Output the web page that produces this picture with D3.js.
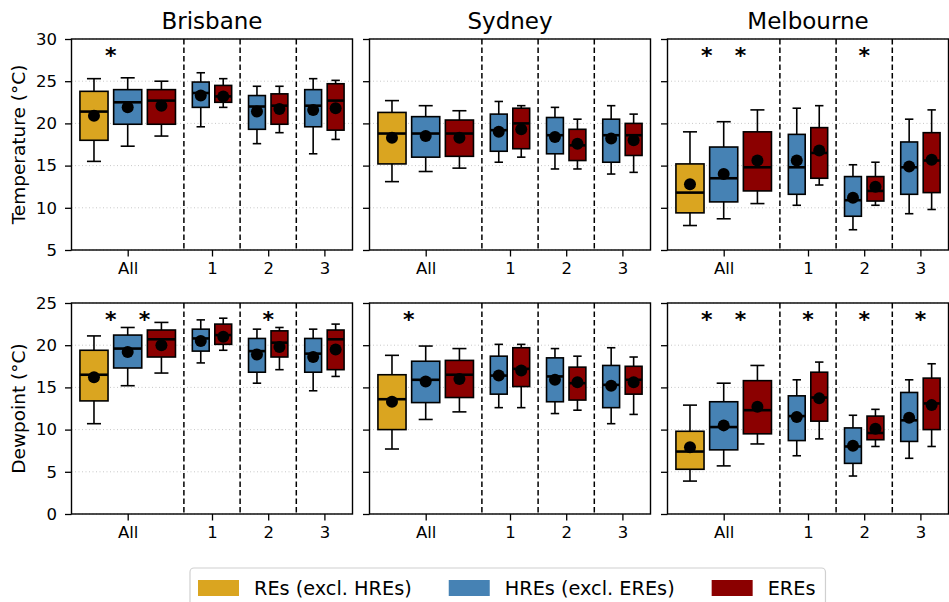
<!DOCTYPE html>
<html>
<head>
<meta charset="utf-8">
<script src="https://cdn.jsdelivr.net/npm/d3@7"></script>
<style>
  body { margin: 0; background: #fff; }
  svg text { font-family: "DejaVu Sans", sans-serif; fill: #000; }
</style>
</head>
<body>
<div id="chart"></div>
<script>
// Names
let cities = ["Brisbane", "Sydney", "Melbourne"];
let groups = ["All", "1", "2", "3"];
let seriesNames = ["REs (excl. HREs)", "HREs (excl. EREs)", "EREs"];
let rowLabels = ["Temperature (\u00b0C)", "Dewpoint (\u00b0C)"];
let tempTicks = [5, 10, 15, 20, 25, 30];
let dewTicks = [0, 5, 10, 15, 20, 25];

// Box stats: [whisker low, Q1, median, Q3, whisker high, mean]
// order: All-RE, All-HRE, All-ERE, 1-HRE, 1-ERE, 2-HRE, 2-ERE, 3-HRE, 3-ERE
let tempBrisbane = [
  [15.5, 18.0, 21.4, 23.8, 25.3, 20.9], [17.3, 19.9, 22.5, 24.0, 25.4, 21.9], [18.5, 19.9, 22.7, 24.0, 25.0, 22.1],
  [19.6, 21.9, 23.6, 24.9, 26.0, 23.3], [21.9, 22.5, 23.2, 24.5, 25.3, 23.2],
  [17.6, 19.3, 22.0, 23.3, 24.4, 21.4], [18.9, 19.9, 22.1, 23.5, 24.4, 21.7],
  [16.4, 19.6, 22.1, 24.0, 25.3, 21.6], [18.1, 19.2, 22.7, 24.7, 25.1, 21.8]
];
let tempSydney = [
  [13.1, 15.2, 18.8, 21.3, 22.7, 18.3], [14.3, 16.0, 18.8, 20.8, 22.1, 18.5], [14.7, 16.1, 18.8, 20.4, 21.5, 18.3],
  [15.4, 16.7, 19.2, 21.1, 22.6, 19.0], [16.0, 17.0, 20.0, 21.8, 22.1, 19.3],
  [14.6, 16.4, 18.6, 20.7, 21.9, 18.4], [14.6, 15.6, 17.4, 19.3, 20.5, 17.6],
  [14.0, 15.4, 18.6, 20.5, 22.1, 18.2], [14.2, 16.2, 18.6, 20.0, 21.1, 18.0]
];
let tempMelbourne = [
  [7.9, 9.4, 11.8, 15.2, 19.0, 12.8], [8.7, 10.7, 13.5, 17.2, 20.2, 14.0], [10.5, 12.0, 14.8, 19.0, 21.6, 15.6],
  [10.3, 11.6, 14.8, 18.7, 21.8, 15.6], [12.7, 13.5, 16.5, 19.5, 22.1, 16.8],
  [7.4, 9.0, 10.9, 13.7, 15.1, 11.2], [10.3, 10.8, 12.0, 13.7, 15.4, 12.5],
  [9.3, 11.6, 14.8, 17.8, 20.5, 14.9], [9.8, 11.8, 15.6, 18.9, 21.6, 15.7]
];
let dewBrisbane = [
  [10.7, 13.4, 16.5, 19.4, 21.1, 16.2], [15.2, 17.3, 19.6, 21.2, 22.1, 19.2], [16.7, 18.6, 20.7, 21.8, 22.7, 20.0],
  [17.9, 19.3, 20.8, 21.9, 23.0, 20.5], [19.4, 20.1, 21.2, 22.5, 23.2, 21.0],
  [15.5, 16.8, 19.3, 20.8, 21.9, 18.9], [17.1, 18.6, 20.3, 21.7, 22.1, 19.8],
  [14.6, 16.8, 19.0, 20.8, 21.9, 18.6], [16.3, 17.1, 20.7, 21.8, 22.5, 19.5]
];
let dewSydney = [
  [7.7, 10.0, 13.6, 16.5, 18.8, 13.3], [11.2, 13.2, 15.9, 18.1, 19.9, 15.7], [12.1, 13.8, 16.5, 18.2, 19.6, 16.0],
  [12.6, 14.2, 16.4, 18.7, 20.1, 16.4], [12.6, 15.1, 17.2, 19.7, 20.1, 17.0],
  [11.9, 13.3, 16.3, 18.5, 19.6, 15.9], [12.3, 13.5, 15.5, 17.4, 18.7, 15.6],
  [10.7, 12.6, 15.3, 17.6, 19.7, 15.2], [11.8, 14.2, 15.9, 17.5, 18.6, 15.6]
];
let dewMelbourne = [
  [3.9, 5.3, 7.4, 9.8, 12.9, 7.9], [5.7, 7.6, 10.3, 13.3, 15.5, 10.5], [8.3, 9.5, 12.3, 15.8, 17.6, 12.7],
  [6.9, 8.7, 11.6, 14.0, 15.9, 11.5], [8.9, 11.0, 13.8, 16.8, 18.0, 13.7],
  [4.5, 6.0, 8.0, 10.2, 11.7, 8.1], [8.0, 8.8, 9.6, 11.6, 12.4, 10.1],
  [6.6, 8.6, 11.1, 14.4, 15.9, 11.4], [8.0, 10.0, 13.1, 16.1, 17.8, 12.9]
];

// Significance marks: [group index, pair] where pair 0 = REs vs HREs, 1 = HREs vs EREs
let sigTemp = [[[0, 0]], [], [[0, 0], [0, 1], [2, 1]]];
let sigDew = [[[0, 0], [0, 1], [2, 1]], [[0, 0]], [[0, 0], [0, 1], [1, 1], [2, 1], [3, 1]]];

// ---- layout
let svgWidth = 949, svgHeight = 602;
let panelW = 281;
let panelLeft = [71.5, 369.5, 667.5];
let rows = [
  {top: 39, bottom: 250, domain: [5, 30], ticks: tempTicks, stats: [tempBrisbane, tempSydney, tempMelbourne], sig: sigTemp},
  {top: 303, bottom: 514, domain: [0, 25], ticks: dewTicks, stats: [dewBrisbane, dewSydney, dewMelbourne], sig: sigDew}
];
let colors = ["#DAA520", "#4682B4", "#8B0000"];

// sections: "All" is twice as wide as the numbered groups
let sectionW = [4, 2, 2, 2];
let sectionStart = d3.cumsum([0].concat(sectionW)).slice(0, 4);
let centers = sectionW.map((w, i) => sectionStart[i] + w / 2);

// one entry per box: group, series, x-offset, width
let boxSlots = [];
groups.forEach((g, gi) => {
  let series = gi === 0 ? [0, 1, 2] : [1, 2];
  let step = gi === 0 ? 1.2 : 0.8;
  let w = gi === 0 ? 1.0 : 0.6;
  series.forEach((s, k) => {
    boxSlots.push({g: gi, s: s, x: centers[gi] + (k - (series.length - 1) / 2) * step, w: w});
  });
});

let svg = d3.select("#chart")
  .append("svg")
  .attr("width", svgWidth)
  .attr("height", svgHeight);

let xScale = d3.scaleLinear().domain([0, 10]).range([0, panelW]);

rows.forEach((row, ri) => {
  let yScale = d3.scaleLinear().domain(row.domain).range([row.bottom, row.top]);

  cities.forEach((city, ci) => {
    let g = svg.append("g").attr("transform", `translate(${panelLeft[ci]},0)`);

    // grid
    g.selectAll(".grid")
      .data(row.ticks)
      .enter()
      .append("line")
      .attr("x1", 0).attr("x2", panelW)
      .attr("y1", d => yScale(d)).attr("y2", d => yScale(d))
      .attr("stroke", "#c8c8c8")
      .attr("stroke-width", 1)
      .attr("stroke-dasharray", "1,2.5");

    // section dividers
    g.selectAll(".div")
      .data(sectionStart.slice(1))
      .enter()
      .append("line")
      .attr("x1", d => xScale(d)).attr("x2", d => xScale(d))
      .attr("y1", row.top).attr("y2", row.bottom)
      .attr("stroke", "#000")
      .attr("stroke-width", 1.5)
      .attr("stroke-dasharray", "5.5,3");

    // boxes
    let boxData = boxSlots.map((b, i) => Object.assign({v: row.stats[ci][i]}, b));
    let box = g.selectAll(".box")
      .data(boxData)
      .enter()
      .append("g");

    box.append("line")
      .attr("x1", d => xScale(d.x)).attr("x2", d => xScale(d.x))
      .attr("y1", d => yScale(d.v[0])).attr("y2", d => yScale(d.v[4]))
      .attr("stroke", "#000").attr("stroke-width", 1.6);

    box.selectAll(".cap")
      .data(d => [[d, d.v[0]], [d, d.v[4]]])
      .enter()
      .append("line")
      .attr("x1", d => xScale(d[0].x - d[0].w / 4)).attr("x2", d => xScale(d[0].x + d[0].w / 4))
      .attr("y1", d => yScale(d[1])).attr("y2", d => yScale(d[1]))
      .attr("stroke", "#000").attr("stroke-width", 1.6);

    box.append("rect")
      .attr("x", d => xScale(d.x - d.w / 2))
      .attr("width", d => xScale(d.w) - xScale(0))
      .attr("y", d => yScale(d.v[3]))
      .attr("height", d => yScale(d.v[1]) - yScale(d.v[3]))
      .attr("fill", d => colors[d.s])
      .attr("stroke", "#000").attr("stroke-width", 1.6);

    box.append("line")
      .attr("x1", d => xScale(d.x - d.w / 2)).attr("x2", d => xScale(d.x + d.w / 2))
      .attr("y1", d => yScale(d.v[2])).attr("y2", d => yScale(d.v[2]))
      .attr("stroke", "#000").attr("stroke-width", 2.6);

    box.append("circle")
      .attr("cx", d => xScale(d.x))
      .attr("cy", d => yScale(d.v[5]))
      .attr("r", 6)
      .attr("fill", "#000");

    // significance asterisks, between the two compared boxes
    g.selectAll(".sig")
      .data(row.sig[ci])
      .enter()
      .append("text")
      .attr("x", d => {
        let pair = boxSlots.filter(b => b.g === d[0] && (d[1] === 0 ? b.s <= 1 : b.s >= 1));
        return xScale(d3.mean(pair, b => b.x));
      })
      .attr("y", row.top + 24)
      .attr("text-anchor", "middle")
      .attr("font-size", 22)
      .attr("font-weight", "bold")
      .text("*");

    // axes
    let yAxis = d3.axisLeft(yScale).tickValues(row.ticks).tickSize(6.5).tickPadding(8)
      .tickFormat(ci === 0 ? d3.format("d") : () => "");
    let ya = g.append("g").call(yAxis);
    let xAxis = d3.axisBottom(xScale).tickValues(centers).tickSize(6.5).tickPadding(6)
      .tickFormat((d, i) => groups[i]);
    let xa = g.append("g").attr("transform", `translate(0,${row.bottom})`).call(xAxis);
    [ya, xa].forEach(a => {
      a.select(".domain").remove();
      a.selectAll("line").attr("stroke", "#000").attr("stroke-width", 1.3);
      a.selectAll("text").attr("font-size", 16.5).attr("fill", "#000");
    });

    // frame
    g.append("rect")
      .attr("x", 0).attr("y", row.top)
      .attr("width", panelW).attr("height", row.bottom - row.top)
      .attr("fill", "none")
      .attr("stroke", "#000").attr("stroke-width", 1.4);

    if (ri === 0) {
      svg.append("text")
        .attr("x", panelLeft[ci] + panelW / 2)
        .attr("y", 29)
        .attr("text-anchor", "middle")
        .attr("font-size", 23)
        .text(city);
    }
  });

  svg.append("text")
    .attr("transform", `translate(25,${(row.top + row.bottom) / 2}) rotate(-90)`)
    .attr("text-anchor", "middle")
    .attr("font-size", 18.5)
    .text(rowLabels[ri]);
});

// legend
let legend = svg.append("g");
let legendBox = legend.append("rect")
  .attr("x", 190).attr("y", 568)
  .attr("height", 60).attr("rx", 4)
  .attr("fill", "#fff").attr("stroke", "#d0d0d0").attr("stroke-width", 1.2);
let lx = 198;
seriesNames.forEach((name, i) => {
  legend.append("rect")
    .attr("x", lx).attr("y", 580)
    .attr("width", 41).attr("height", 16)
    .attr("fill", colors[i]);
  let t = legend.append("text")
    .attr("x", lx + 56).attr("y", 595)
    .attr("font-size", 19.3)
    .text(name);
  lx += 56 + t.node().getComputedTextLength() + 37;
});
legendBox.attr("width", lx - 37 + 10 - 190);
</script>
</body>
</html>
